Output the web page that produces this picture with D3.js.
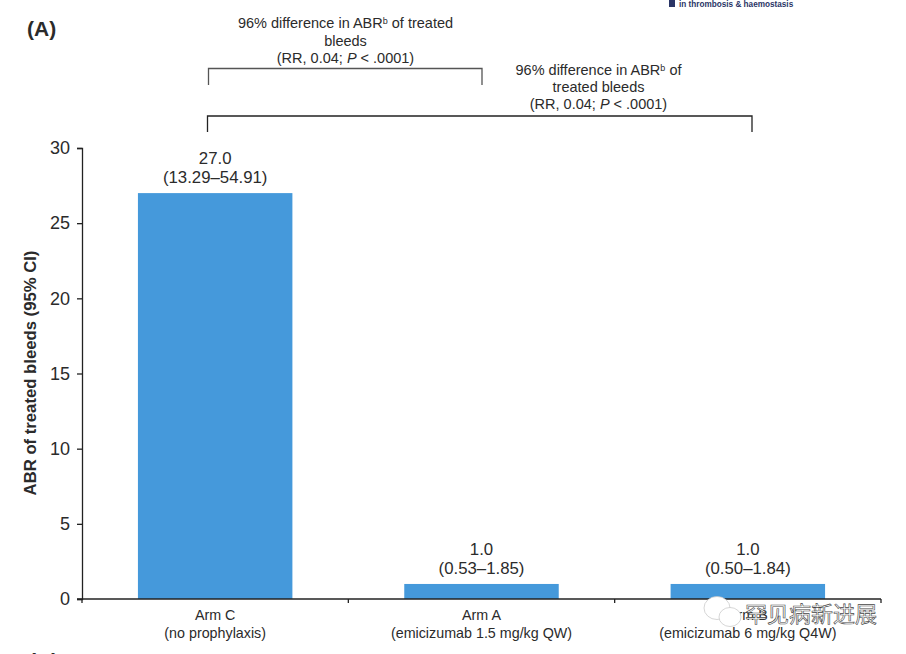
<!DOCTYPE html>
<html>
<head>
<meta charset="utf-8">
<script src="https://cdn.jsdelivr.net/npm/d3@7"></script>
<style>
  html, body { margin: 0; padding: 0; background: #fff; }
  svg { display: block; }
  text { font-family: "Liberation Sans", Arial, sans-serif; fill: #2b2b2b; }
</style>
</head>
<body>
<div id="chart"></div>
<script>
var categories = ['Arm C', 'Arm A', 'Arm B'];
var subLabels = ['(no prophylaxis)', '(emicizumab 1.5 mg/kg QW)', '(emicizumab 6 mg/kg Q4W)'];
var values = [27.0, 1.0, 1.0];
var valueLabels = ['27.0', '1.0', '1.0'];
var ciLabels = ['(13.29–54.91)', '(0.53–1.85)', '(0.50–1.84)'];
var yTicks = [0, 5, 10, 15, 20, 25, 30];

var width = 906,
    height = 654;

var svg = d3.select('#chart').append('svg').attr('width', width).attr('height', height);

var xScale = d3.scaleBand()
  .domain(categories)
  .range([82, 881])
  .paddingInner(0.42)
  .paddingOuter(0.21);

var yScale = d3.scaleLinear()
  .domain([0, 30])
  .range([599, 148]);

// bars
svg.append('g').selectAll('rect')
  .data(values)
  .enter().append('rect')
  .attr('x', function(d, i) { return xScale(categories[i]); })
  .attr('y', function(d) { return yScale(d); })
  .attr('width', xScale.bandwidth())
  .attr('height', function(d) { return yScale(0) - yScale(d); })
  .attr('fill', '#4599db');

// axes
var yAxis = d3.axisLeft(yScale).tickValues(yTicks).tickSize(5).tickPadding(7);
var yG = svg.append('g').attr('transform', 'translate(82,0)').call(yAxis);
yG.selectAll('text').style('font-size', '18px').attr('fill', '#2b2b2b');
yG.selectAll('path, line').attr('stroke', '#222').attr('stroke-width', 1.3);

// x axis ticks sit between the bars, so draw them from the band edges
var xEdges = categories.map(function(c) { return xScale(c) - xScale.step() * 0.21; });
xEdges.push(xScale(categories[2]) + xScale.step() * 0.79);
svg.append('line')
  .attr('x1', 77).attr('x2', 881)
  .attr('y1', yScale(0)).attr('y2', yScale(0))
  .attr('stroke', '#222').attr('stroke-width', 1.3);
svg.append('g').selectAll('line')
  .data(xEdges)
  .enter().append('line')
  .attr('x1', function(d) { return d; }).attr('x2', function(d) { return d; })
  .attr('y1', yScale(0)).attr('y2', yScale(0) + 4)
  .attr('stroke', '#222').attr('stroke-width', 1.3);

// category labels
var center = function(i) { return xScale(categories[i]) + xScale.bandwidth() / 2; };
categories.forEach(function(c, i) {
  svg.append('text').attr('x', center(i)).attr('y', 620)
    .attr('text-anchor', 'middle').attr('font-size', 14.3).text(c);
  svg.append('text').attr('x', center(i)).attr('y', 637.5)
    .attr('text-anchor', 'middle').attr('font-size', 14.3).text(subLabels[i]);
  svg.append('text').attr('x', center(i)).attr('y', yScale(values[i]) - 29)
    .attr('text-anchor', 'middle').attr('font-size', 16.8).text(valueLabels[i]);
  svg.append('text').attr('x', center(i)).attr('y', yScale(values[i]) - 10)
    .attr('text-anchor', 'middle').attr('font-size', 16.8).text(ciLabels[i]);
});

// y title
svg.append('text')
  .attr('transform', 'translate(36,' + 373 + ') rotate(-90)')
  .attr('text-anchor', 'middle')
  .attr('font-size', 16.7)
  .attr('font-weight', 'bold')
  .text('ABR of treated bleeds (95% CI)');

// panel labels
svg.append('text').attr('x', 27).attr('y', 36)
  .attr('font-size', 21).attr('font-weight', 'bold').text('(A)');
svg.append('text').attr('x', 29).attr('y', 668)
  .attr('font-size', 21).attr('font-weight', 'bold').text('(B)');

// comparison brackets
function bracket(x1, x2, top, bottom, color) {
  svg.append('path')
    .attr('d', d3.line()([[x1, bottom], [x1, top], [x2, top], [x2, bottom]]))
    .attr('fill', 'none')
    .attr('stroke', color)
    .attr('stroke-width', 1.3);
}
bracket(208.5, 482, 68.5, 85, '#555');
bracket(207.5, 752, 116, 132, '#222');

function noteLines(cx, ys, line1a, line1b, line2) {
  var t = svg.append('text').attr('x', cx).attr('y', ys[0])
    .attr('text-anchor', 'middle').attr('font-size', 14.5);
  t.append('tspan').text(line1a);
  t.append('tspan').attr('font-size', 9).attr('dy', -4).text('b');
  t.append('tspan').attr('dy', 4).text(line1b);
  svg.append('text').attr('x', cx).attr('y', ys[1])
    .attr('text-anchor', 'middle').attr('font-size', 14.5).text(line2);
  var p = svg.append('text').attr('x', cx).attr('y', ys[2])
    .attr('text-anchor', 'middle').attr('font-size', 14.5);
  p.append('tspan').text('(RR, 0.04; ');
  p.append('tspan').attr('font-style', 'italic').text('P');
  p.append('tspan').text(' < .0001)');
}
noteLines(345.5, [28, 46, 63], '96% difference in ABR', ' of treated', 'bleeds');
noteLines(598.5, [75, 92, 109], '96% difference in ABR', ' of', 'treated bleeds');

// journal strip at the top edge
svg.append('rect').attr('x', 669).attr('y', 0).attr('width', 6).attr('height', 7).attr('fill', '#2a3566');
svg.append('text').attr('x', 679).attr('y', 7)
  .attr('font-size', 8.2).attr('font-weight', 'bold').style('fill', '#2a3566')
  .text('in thrombosis & haemostasis');

// watermark
var wm = svg.append('g').attr('fill', '#fff').attr('stroke', '#c4c4c4').attr('stroke-width', 0.7);
wm.append('ellipse').attr('cx', 717).attr('cy', 608).attr('rx', 13).attr('ry', 11.5);
wm.append('ellipse').attr('cx', 730).attr('cy', 617).attr('rx', 11).attr('ry', 9.5);
svg.append('text').attr('x', 745).attr('y', 622)
  .style('font-family', '"Noto Sans CJK SC"').style('font-size', '22px')
  .style('fill', '#fff').style('stroke', '#444').style('stroke-width', '0.6px')
  .text('罕见病新进展');
</script>
</body>
</html>
